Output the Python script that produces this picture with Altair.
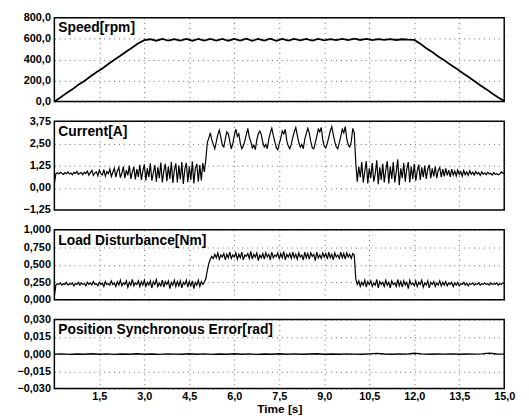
import altair as alt
import pandas as pd

# ---------------- data ----------------
x_ticks = [1.5, 3.0, 4.5, 6.0, 7.5, 9.0, 10.5, 12.0, 13.5, 15.0]

speed_time = [round(i * 0.2, 1) for i in range(76)]
speed_rpm = [
    0, 38, 80, 116, 160, 196, 238, 280, 316, 358,
    398, 436, 478, 516, 556, 586, 594, 580, 597, 581,
    596, 582, 597, 580, 598, 581, 597, 582, 598, 580,
    597, 581, 599, 580, 598, 581, 599, 580, 598, 582,
    597, 583, 597, 582, 598, 584, 596, 585, 597, 586,
    599, 587, 597, 586, 596, 588, 595, 587, 594, 590,
    588, 552, 508, 472, 430, 394, 352, 316, 274, 236,
    196, 156, 118, 76, 38, 4,
]

current_time = [round(i * 0.05, 2) for i in range(301)]
current_a = [
    0.20, 0.80, 0.85, 0.78, 0.88, 0.82, 0.76, 0.86, 0.80, 0.90, 0.78, 0.84, 0.74, 0.88, 0.80, 0.92, 0.76, 0.82, 0.86, 0.74,
    0.88, 0.80, 0.94, 0.72, 0.86, 0.98, 0.70, 0.84, 0.90, 0.68, 1.00, 0.78, 0.72, 1.02, 0.66, 0.92, 0.80, 1.06, 0.64, 0.88,
    1.10, 0.60, 0.95, 1.15, 0.58, 0.82, 1.20, 0.55, 1.00, 0.70, 1.25, 0.50, 0.90, 1.18, 0.48, 1.05, 0.62, 1.30, 0.45, 0.95,
    1.32, 0.42, 1.10, 0.60, 1.38, 0.40, 0.85, 1.28, 0.35, 1.15, 0.55, 1.42, 0.30, 0.95, 1.35, 0.38, 1.20, 0.50, 1.45, 0.28,
    1.00, 1.38, 0.30, 1.25, 0.48, 1.45, 0.22, 1.05, 1.40, 0.32, 1.20, 0.45, 1.48, 0.25, 1.10, 1.35, 0.35, 1.28, 0.42, 1.40,
    0.90, 1.60, 2.55, 2.80, 3.10, 2.70, 2.45, 2.20, 2.60, 3.00, 3.25, 2.85, 2.40, 2.30, 2.75, 3.15, 3.05, 2.60, 2.20, 2.50,
    2.95, 3.30, 2.90, 3.05, 2.50, 2.20, 2.35, 2.65, 3.00, 3.35, 2.85, 2.60, 2.25, 2.40, 2.15, 2.70, 3.05, 3.20, 3.00, 2.55,
    2.30, 2.45, 2.20, 2.75, 3.10, 3.35, 2.95, 2.60, 2.25, 2.15, 2.50, 2.80, 3.20, 3.05, 3.30, 2.65, 2.35, 2.20, 2.45, 2.85,
    3.15, 3.40, 2.95, 2.55, 2.30, 2.45, 2.20, 2.75, 3.05, 3.35, 3.10, 2.60, 2.25, 2.20, 2.55, 2.90, 3.30, 3.15, 3.40, 2.70,
    2.35, 2.25, 2.50, 2.85, 3.20, 3.45, 3.00, 2.60, 2.30, 2.20, 2.55, 2.90, 3.30, 3.10, 3.45, 2.75, 2.40, 2.30, 2.60, 3.35,
    3.10, 1.40, 0.35, 1.20, 0.60, 1.45, 0.30, 0.95, 1.50, 0.25, 1.10, 0.55, 1.40, 0.35, 0.80, 1.55, 0.20, 1.15, 0.45, 1.35,
    0.30, 1.00, 1.50, 0.25, 1.20, 0.50, 1.45, 0.30, 0.90, 1.60, 0.15, 1.10, 0.55, 1.40, 0.35, 1.05, 1.45, 0.30, 1.20, 0.50,
    1.35, 0.40, 0.95, 1.30, 0.45, 1.15, 0.60, 1.25, 0.50, 1.05, 1.30, 0.55, 1.10, 0.65, 1.20, 0.55, 1.00, 1.15, 0.60, 1.05,
    0.65, 1.10, 0.70, 1.00, 0.62, 1.05, 0.72, 0.95, 0.68, 1.00, 0.75, 0.92, 0.66, 0.98, 0.74, 0.90, 0.70, 0.96, 0.76, 0.88,
    0.72, 0.92, 0.78, 0.86, 0.70, 0.90, 0.76, 0.84, 0.74, 0.88, 0.78, 0.82, 0.72, 0.86, 0.76, 0.80, 0.74, 0.78, 0.90, 0.82,
    0.85,
]

load_time = [round(i * 0.05, 2) for i in range(301)]
load_nm = [
    0.05, 0.21, 0.23, 0.22, 0.24, 0.21, 0.23, 0.22, 0.25, 0.21, 0.23, 0.22, 0.24, 0.20, 0.23, 0.22, 0.25, 0.21, 0.24, 0.22,
    0.23, 0.20, 0.25, 0.22, 0.24, 0.21, 0.26, 0.22, 0.23, 0.20, 0.25, 0.22, 0.24, 0.19, 0.26, 0.22, 0.23, 0.21, 0.27, 0.22,
    0.24, 0.19, 0.26, 0.21, 0.28, 0.20, 0.24, 0.22, 0.27, 0.18, 0.25, 0.21, 0.29, 0.20, 0.24, 0.22, 0.27, 0.19, 0.26, 0.21,
    0.28, 0.19, 0.25, 0.21, 0.27, 0.17, 0.26, 0.22, 0.29, 0.19, 0.24, 0.20, 0.28, 0.18, 0.26, 0.22, 0.27, 0.16, 0.25, 0.21,
    0.28, 0.19, 0.26, 0.20, 0.27, 0.17, 0.25, 0.22, 0.28, 0.18, 0.26, 0.20, 0.27, 0.16, 0.25, 0.21, 0.28, 0.19, 0.26, 0.22,
    0.25, 0.30, 0.42, 0.52, 0.58, 0.62, 0.59, 0.65, 0.60, 0.67, 0.58, 0.64, 0.61, 0.66, 0.57, 0.65, 0.60, 0.68, 0.59, 0.64,
    0.61, 0.67, 0.58, 0.65, 0.60, 0.68, 0.57, 0.64, 0.62, 0.66, 0.59, 0.69, 0.58, 0.65, 0.61, 0.67, 0.56, 0.64, 0.60, 0.66,
    0.58, 0.67, 0.61, 0.65, 0.57, 0.68, 0.60, 0.64, 0.62, 0.67, 0.58, 0.66, 0.60, 0.69, 0.57, 0.65, 0.61, 0.66, 0.59, 0.68,
    0.60, 0.65, 0.58, 0.67, 0.61, 0.64, 0.57, 0.68, 0.60, 0.66, 0.58, 0.67, 0.62, 0.65, 0.56, 0.68, 0.60, 0.64, 0.59, 0.67,
    0.61, 0.66, 0.58, 0.68, 0.60, 0.65, 0.57, 0.67, 0.61, 0.64, 0.59, 0.68, 0.60, 0.66, 0.58, 0.67, 0.61, 0.65, 0.59, 0.66,
    0.64, 0.30, 0.22, 0.27, 0.19, 0.25, 0.21, 0.28, 0.18, 0.26, 0.22, 0.27, 0.19, 0.24, 0.21, 0.29, 0.17, 0.26, 0.22, 0.25,
    0.19, 0.28, 0.21, 0.25, 0.17, 0.27, 0.22, 0.24, 0.19, 0.29, 0.20, 0.26, 0.18, 0.27, 0.21, 0.25, 0.16, 0.28, 0.22, 0.24,
    0.20, 0.27, 0.19, 0.25, 0.22, 0.28, 0.18, 0.24, 0.21, 0.27, 0.17, 0.25, 0.22, 0.26, 0.19, 0.24, 0.21, 0.27, 0.20, 0.25,
    0.21, 0.26, 0.20, 0.24, 0.22, 0.25, 0.19, 0.24, 0.21, 0.25, 0.20, 0.23, 0.22, 0.25, 0.21, 0.24, 0.20, 0.23, 0.22, 0.24,
    0.21, 0.23, 0.22, 0.24, 0.21, 0.23, 0.22, 0.24, 0.22, 0.23, 0.21, 0.24, 0.22, 0.23, 0.22, 0.24, 0.21, 0.23, 0.22, 0.24,
    0.23,
]

pos_time = [round(i * 0.25, 2) for i in range(61)]
pos_err_rad = [
    0.0000, 0.0002, -0.0003, 0.0001, -0.0002, 0.0003, -0.0001, 0.0002, -0.0003, 0.0001,
    -0.0002, 0.0003, -0.0002, 0.0001, -0.0003, 0.0002, 0.0000, -0.0002, 0.0003, -0.0001,
    0.0002, -0.0003, 0.0001, -0.0002, 0.0003, -0.0001, 0.0002, -0.0003, 0.0001, -0.0002,
    0.0003, -0.0001, 0.0002, -0.0002, 0.0001, 0.0003, -0.0002, 0.0001, -0.0001, 0.0002,
    0.0000, -0.0001, 0.0002, 0.0006, 0.0001, -0.0001, 0.0002, 0.0000, 0.0007, 0.0002,
    -0.0001, 0.0001, 0.0000, 0.0002, -0.0001, 0.0001, 0.0000, 0.0002, 0.0008, 0.0001,
    0.0000,
]

speed_ticks = [0, 200, 400, 600, 800]
current_ticks = [-1.25, 0.0, 1.25, 2.5, 3.75]
load_ticks = [0.0, 0.25, 0.5, 0.75, 1.0]
pos_ticks = [-0.03, -0.015, 0.0, 0.015, 0.03]

FONT = "Liberation Sans"


def comma_expr(fmt):
    return "replace(format(datum.value, '%s'), '.', ',')" % fmt


def panel(times, values, title, y_ticks, y_fmt, height, bottom, stroke_w):
    df = pd.DataFrame({"t": times, "v": values})
    x_kwargs = dict(
        values=x_ticks, grid=True, ticks=False, domain=False,
        labelFlush=False, labelOverlap=False,
    )
    if bottom:
        x_kwargs.update(
            labels=True, labelExpr=comma_expr(".1f"), title="Time [s]",
            labelPadding=2, titlePadding=2,
        )
    else:
        x_kwargs.update(labels=False, title="", minExtent=0, maxExtent=0,
                        labelPadding=0, titlePadding=0)
    line = alt.Chart(df).mark_line(color="black", strokeWidth=stroke_w, clip=True).encode(
        x=alt.X("t:Q", scale=alt.Scale(domain=[0, 15], nice=False, zero=False),
                axis=alt.Axis(**x_kwargs)),
        y=alt.Y("v:Q", scale=alt.Scale(domain=[y_ticks[0], y_ticks[-1]], nice=False, zero=False),
                axis=alt.Axis(values=y_ticks, grid=True, ticks=False, domain=False,
                              labelExpr=comma_expr(y_fmt), title="", labelFlush=False,
                              labelOverlap=False, minExtent=41, maxExtent=41,
                              labelPadding=4)),
    )
    label = alt.Chart(pd.DataFrame({"label": [title]})).mark_text(
        align="left", baseline="middle", fontSize=14, fontWeight="bold",
        font=FONT, color="black",
    ).encode(x=alt.value(4), y=alt.value(11), text="label:N")
    return alt.layer(line, label).properties(width=456, height=height)


p1 = panel(speed_time, speed_rpm, "Speed[rpm]", speed_ticks, ".1f", 85, False, 1.8)
p2 = panel(current_time, current_a, "Current[A]", current_ticks, ".2f", 90, False, 1.2)
p3 = panel(load_time, load_nm, "Load Disturbance[Nm]", load_ticks, ".3f", 71, False, 1.2)
p4 = panel(pos_time, pos_err_rad, "Position Synchronous Error[rad]", pos_ticks, ".3f", 70, True, 1.4)

chart = alt.vconcat(p1, p2, p3, p4, spacing=20, bounds="flush").properties(
    padding={"left": 5, "top": 0, "right": 5, "bottom": 0},
    background="white",
).configure_view(
    stroke="black", strokeWidth=1.5, fill="white"
).configure_axis(
    labelFont=FONT, labelFontSize=11, labelFontWeight="bold", labelColor="black",
    titleFont=FONT, titleFontSize=12, titleFontWeight="bold", titleColor="black",
    gridColor="#444444", gridDash=[1, 4], gridWidth=1, gridOpacity=0.8,
)

chart.save("out.html", embed_options={"renderer": "svg", "actions": False})
